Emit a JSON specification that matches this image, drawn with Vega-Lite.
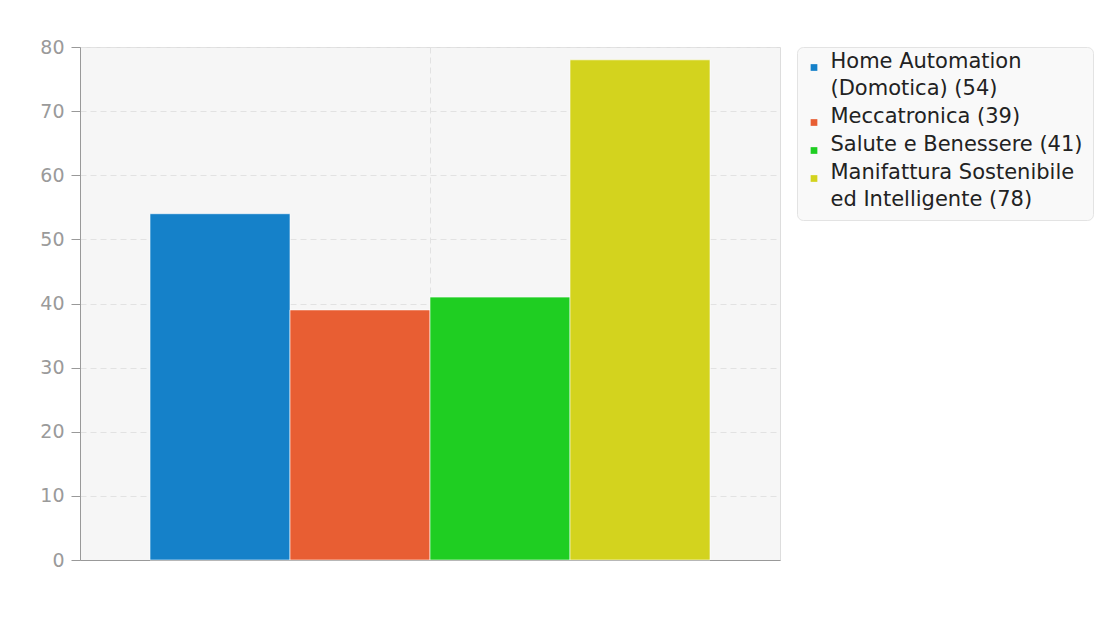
{
  "$schema": "https://vega.github.io/schema/vega-lite/v6.json",
  "width": 700,
  "height": 513,
  "autosize": {"type": "none"},
  "padding": {"left": 80, "top": 47, "right": 329, "bottom": 79},
  "background": "#ffffff",
  "config": {
    "font": "DejaVu Sans",
    "view": {"fill": "#f6f6f6", "stroke": "#dddddd", "strokeWidth": 1},
    "style": {"guide-label": {"lineHeight": 27.5}}
  },
  "data": {
    "values": [
      {"group": "all", "series": "Home Automation (Domotica)", "label": "Home Automation|(Domotica) (54)", "value": 54},
      {"group": "all", "series": "Meccatronica", "label": "Meccatronica (39)", "value": 39},
      {"group": "all", "series": "Salute e Benessere", "label": "Salute e Benessere (41)", "value": 41},
      {"group": "all", "series": "Manifattura Sostenibile ed Intelligente", "label": "Manifattura Sostenibile|ed Intelligente (78)", "value": 78}
    ]
  },
  "mark": {"type": "bar", "stroke": "#ffffff", "strokeWidth": 1, "strokeOpacity": 0.6},
  "encoding": {
    "x": {
      "field": "group",
      "type": "nominal",
      "scale": {"paddingInner": 0, "paddingOuter": 0.125},
      "axis": {
        "title": null,
        "labels": false,
        "ticks": false,
        "domain": true,
        "domainColor": "#999999",
        "grid": true,
        "bandPosition": 0.5,
        "gridColor": "#e2e2e2",
        "gridDash": [6, 4],
        "gridWidth": 1
      }
    },
    "xOffset": {"field": "series", "type": "nominal", "sort": null, "scale": {"paddingInner": 0, "paddingOuter": 0}},
    "y": {
      "field": "value",
      "type": "quantitative",
      "scale": {"domain": [0, 80], "nice": false},
      "axis": {
        "title": null,
        "values": [0, 10, 20, 30, 40, 50, 60, 70, 80],
        "labelFontSize": 19,
        "labelColor": "#9a9a9a",
        "labelPadding": 7,
        "tickSize": 9,
        "tickColor": "#999999",
        "domainColor": "#999999",
        "gridColor": "#e2e2e2",
        "gridDash": [6, 4],
        "gridWidth": 1
      }
    },
    "color": {
      "field": "label",
      "type": "nominal",
      "sort": null,
      "scale": {"range": ["#1581c9", "#e85e33", "#1fce22", "#d3d31e"]},
      "legend": {
        "title": null,
        "orient": "none",
        "legendX": 717,
        "legendY": 0,
        "symbolType": "square",
        "symbolSize": 45,
        "symbolStrokeWidth": 0,
        "symbolOffset": -3.5,
        "labelExpr": "split(datum.label, '|')",
        "labelFontSize": 21,
        "labelColor": "#222222",
        "labelOffset": 6,
        "labelLimit": 400,
        "rowPadding": 6,
        "padding": 10,
        "fillColor": "#f9f9f9",
        "strokeColor": "#e3e3e3",
        "cornerRadius": 6,
        "labelBaseline": "alphabetic"
      }
    }
  }
}
